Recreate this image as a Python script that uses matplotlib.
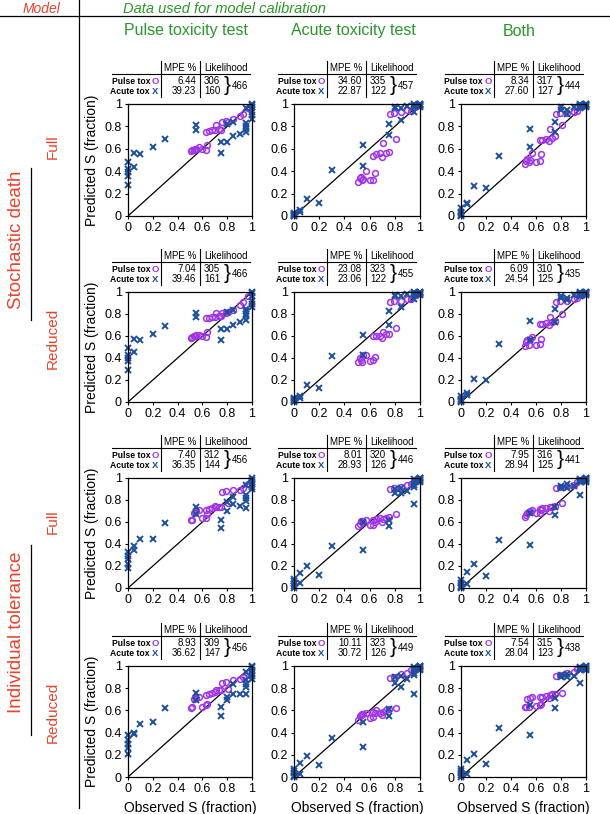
import matplotlib.pyplot as plt
from matplotlib.lines import Line2D

plt.rcParams["font.family"] = ["Liberation Sans", "DejaVu Sans"]

W, H = 610, 814

red = '#e8432b'
green = '#2b962b'
purple = '#a035e8'
blue = '#1c4f9e'

col_titles = ['Pulse toxicity test', 'Acute toxicity test', 'Both']
model_names = ['Stochastic death', 'Individual tolerance']
variant_names = ['Full', 'Reduced', 'Full', 'Reduced']
ticks = [0, 0.2, 0.4, 0.6, 0.8, 1]
tick_labels = ['0', '0.2', '0.4', '0.6', '0.8', '1']

# observed survival (same experiments in every panel)
pulse_obs = [0.51, 0.52, 0.53, 0.54, 0.55, 0.57, 0.60, 0.63, 0.64,
             0.63, 0.65, 0.68, 0.70, 0.71, 0.73, 0.75,
             0.76, 0.79, 0.81,
             0.85, 0.90, 0.93, 0.97]
acute_obs = [0, 0, 0, 0, 0, 0.05, 0.05, 0.10, 0.20, 0.30, 0.55, 0.55,
             0.75, 0.75, 0.80, 0.80, 0.85, 0.85, 0.90,
             0.95, 0.95, 0.95, 0.95, 0.95, 1, 1, 1, 1, 1, 1]

# predicted survival, pulse tox points.  sd = stochastic death, it = individual tolerance
# suffix: _P calibrated on pulse test, _A on acute test, _B on both
pul_sd_full_P = [0.58, 0.59, 0.59, 0.60, 0.60, 0.62, 0.60, 0.59, 0.63, 0.75, 0.76, 0.77, 0.77, 0.81, 0.78, 0.77, 0.84, 0.85, 0.84, 0.87, 0.89, 0.91, 0.96]
pul_sd_full_A = [0.30, 0.34, 0.35, 0.32, 0.33, 0.40, 0.32, 0.32, 0.38, 0.54, 0.55, 0.56, 0.53, 0.65, 0.56, 0.57, 0.91, 0.92, 0.69, 0.93, 0.95, 0.94, 0.98]
pul_sd_full_B = [0.46, 0.49, 0.51, 0.48, 0.50, 0.56, 0.48, 0.49, 0.55, 0.68, 0.68, 0.69, 0.67, 0.78, 0.70, 0.71, 0.91, 0.92, 0.81, 0.92, 0.93, 0.94, 0.98]
pul_sd_red_P = [0.58, 0.59, 0.60, 0.60, 0.61, 0.61, 0.60, 0.59, 0.64, 0.76, 0.76, 0.77, 0.77, 0.81, 0.78, 0.78, 0.81, 0.81, 0.82, 0.84, 0.88, 0.91, 0.96]
pul_sd_red_A = [0.36, 0.40, 0.38, 0.36, 0.43, 0.43, 0.37, 0.38, 0.41, 0.60, 0.60, 0.60, 0.58, 0.64, 0.62, 0.62, 0.91, 0.92, 0.67, 0.92, 0.94, 0.94, 0.97]
pul_sd_red_B = [0.51, 0.55, 0.56, 0.52, 0.57, 0.59, 0.52, 0.53, 0.57, 0.71, 0.71, 0.72, 0.70, 0.77, 0.73, 0.74, 0.91, 0.92, 0.80, 0.92, 0.94, 0.95, 0.97]
pul_it_full_P = [0.62, 0.62, 0.68, 0.69, 0.70, 0.71, 0.64, 0.64, 0.67, 0.71, 0.72, 0.73, 0.75, 0.74, 0.74, 0.74, 0.87, 0.88, 0.77, 0.89, 0.89, 0.91, 0.95]
pul_it_full_A = [0.56, 0.58, 0.61, 0.61, 0.60, 0.62, 0.57, 0.57, 0.60, 0.62, 0.63, 0.64, 0.60, 0.63, 0.64, 0.65, 0.90, 0.91, 0.67, 0.92, 0.94, 0.95, 0.97]
pul_it_full_B = [0.65, 0.66, 0.68, 0.69, 0.70, 0.71, 0.68, 0.68, 0.71, 0.72, 0.73, 0.73, 0.70, 0.74, 0.74, 0.75, 0.91, 0.92, 0.77, 0.93, 0.94, 0.96, 0.98]
pul_it_red_P = [0.62, 0.63, 0.70, 0.72, 0.71, 0.72, 0.63, 0.65, 0.66, 0.74, 0.75, 0.76, 0.77, 0.78, 0.78, 0.78, 0.85, 0.86, 0.79, 0.87, 0.88, 0.90, 0.94]
pul_it_red_A = [0.51, 0.55, 0.56, 0.57, 0.57, 0.58, 0.53, 0.54, 0.58, 0.59, 0.60, 0.58, 0.56, 0.59, 0.60, 0.61, 0.89, 0.90, 0.62, 0.93, 0.94, 0.96, 0.98]
pul_it_red_B = [0.63, 0.63, 0.70, 0.63, 0.71, 0.72, 0.64, 0.65, 0.66, 0.72, 0.72, 0.73, 0.71, 0.74, 0.75, 0.75, 0.91, 0.92, 0.76, 0.94, 0.95, 0.97, 0.99]

# predicted survival, acute tox points
acu_sd_full_P = [0.48, 0.39, 0.36, 0.28, 0.42, 0.44, 0.56, 0.55, 0.62, 0.69, 0.81, 0.77, 0.56, 0.66, 0.66, 0.82, 0.71, 0.84, 0.73, 0.75, 0.78, 0.80, 0.83, 0.96, 1.00, 0.97, 0.93, 0.90, 0.87, 0.99]
acu_sd_full_A = [0.02, 0.00, 0.01, 0.00, 0.03, 0.05, 0.04, 0.15, 0.12, 0.41, 0.63, 0.45, 0.82, 0.72, 0.96, 0.97, 0.96, 0.86, 0.98, 0.93, 0.97, 0.99, 0.98, 1.00, 1.00, 0.99, 0.98, 1.00, 0.97, 0.99]
acu_sd_full_B = [0.07, 0.01, 0.00, 0.03, 0.04, 0.11, 0.12, 0.27, 0.25, 0.54, 0.78, 0.62, 0.84, 0.75, 0.95, 0.97, 0.95, 0.91, 0.97, 0.97, 0.96, 0.98, 0.99, 1.00, 1.00, 0.99, 0.98, 0.97, 1.00, 0.99]
acu_sd_red_P = [0.49, 0.40, 0.37, 0.29, 0.43, 0.45, 0.57, 0.56, 0.62, 0.69, 0.81, 0.77, 0.56, 0.66, 0.66, 0.82, 0.70, 0.84, 0.73, 0.75, 0.78, 0.80, 0.83, 0.85, 0.99, 0.96, 0.92, 0.89, 0.86, 1.00]
acu_sd_red_A = [0.02, 0.00, 0.04, 0.01, 0.03, 0.05, 0.04, 0.15, 0.13, 0.42, 0.43, 0.61, 0.70, 0.83, 0.96, 0.97, 0.96, 0.86, 0.98, 0.94, 0.97, 0.99, 0.98, 1.00, 1.00, 0.99, 0.98, 1.00, 0.97, 0.99]
acu_sd_red_B = [0.02, 0.05, 0.00, 0.01, 0.03, 0.08, 0.06, 0.21, 0.20, 0.53, 0.74, 0.56, 0.85, 0.73, 0.96, 0.95, 0.93, 0.95, 0.97, 0.98, 0.96, 0.99, 0.97, 1.00, 1.00, 0.99, 0.98, 0.97, 1.00, 0.99]
acu_it_full_P = [0.33, 0.29, 0.26, 0.22, 0.18, 0.38, 0.35, 0.45, 0.45, 0.59, 0.74, 0.67, 0.62, 0.55, 0.70, 0.78, 0.76, 0.83, 0.75, 0.73, 0.79, 0.82, 0.85, 0.94, 0.98, 0.95, 0.92, 0.90, 1.00, 0.96]
acu_it_full_A = [0.02, 0.06, 0.04, 0.08, 0.00, 0.05, 0.14, 0.20, 0.12, 0.38, 0.35, 0.60, 0.62, 0.56, 0.86, 0.90, 0.91, 0.86, 0.88, 0.76, 0.92, 0.94, 0.97, 0.99, 1.00, 0.99, 0.98, 0.97, 1.00, 0.96]
acu_it_full_B = [0.05, 0.02, 0.07, 0.01, 0.00, 0.15, 0.04, 0.22, 0.11, 0.44, 0.39, 0.68, 0.74, 0.66, 0.91, 0.93, 0.95, 0.91, 0.93, 0.85, 0.97, 0.96, 0.98, 0.99, 1.00, 0.99, 0.98, 0.97, 1.00, 0.96]
acu_it_red_P = [0.38, 0.33, 0.30, 0.26, 0.21, 0.40, 0.39, 0.48, 0.50, 0.62, 0.76, 0.69, 0.63, 0.55, 0.69, 0.72, 0.75, 0.84, 0.75, 0.75, 0.81, 0.84, 0.87, 0.95, 0.99, 0.94, 0.91, 0.88, 1.00, 0.96]
acu_it_red_A = [0.07, 0.04, 0.05, 0.01, 0.00, 0.03, 0.13, 0.19, 0.11, 0.35, 0.27, 0.50, 0.61, 0.55, 0.85, 0.90, 0.91, 0.81, 0.88, 0.75, 0.92, 0.94, 0.97, 0.99, 1.00, 0.99, 0.98, 0.97, 1.00, 0.96]
acu_it_red_B = [0.07, 0.05, 0.02, 0.00, 0.04, 0.03, 0.15, 0.21, 0.12, 0.44, 0.38, 0.65, 0.71, 0.62, 0.90, 0.92, 0.93, 0.90, 0.91, 0.85, 0.97, 0.96, 0.98, 0.99, 1.00, 0.99, 0.98, 0.97, 1.00, 0.96]

# table numbers, panels in row order
mpe_pulse = [6.44, 34.60, 8.34, 7.04, 23.08, 6.09, 7.40, 8.01, 7.95, 8.93, 10.11, 7.54]
mpe_acute = [39.23, 22.87, 27.60, 39.46, 23.06, 24.54, 36.35, 28.93, 28.94, 36.62, 30.72, 28.04]
lik_pulse = [306, 335, 317, 305, 323, 310, 312, 320, 316, 309, 323, 315]
lik_acute = [160, 122, 127, 161, 122, 125, 144, 126, 125, 147, 126, 123]
lik_total = [466, 457, 444, 466, 455, 435, 456, 446, 441, 456, 449, 438]

pulse_pred = [pul_sd_full_P, pul_sd_full_A, pul_sd_full_B,
              pul_sd_red_P, pul_sd_red_A, pul_sd_red_B,
              pul_it_full_P, pul_it_full_A, pul_it_full_B,
              pul_it_red_P, pul_it_red_A, pul_it_red_B]
acute_pred = [acu_sd_full_P, acu_sd_full_A, acu_sd_full_B,
              acu_sd_red_P, acu_sd_red_A, acu_sd_red_B,
              acu_it_full_P, acu_it_full_A, acu_it_full_B,
              acu_it_red_P, acu_it_red_A, acu_it_red_B]


def fx(x):
    return x / W


def fy(y):
    return 1 - y / H


def hline(x0, x1, y, lw=0.9):
    fig.add_artist(Line2D([fx(x0), fx(x1)], [fy(y), fy(y)], color='k', lw=lw))


def vline(x, y0, y1, lw=0.9):
    fig.add_artist(Line2D([fx(x), fx(x)], [fy(y0), fy(y1)], color='k', lw=lw))


def draw_table(L, T, i):
    fs = 7
    fig.text(fx(L + 52), fy(T - 36), 'MPE %', ha='center', va='center', fontsize=fs)
    fig.text(fx(L + 76), fy(T - 36), 'Likelihood', ha='left', va='center', fontsize=fs)
    hline(L - 16, L + 122, T - 30, lw=0.8)
    vline(L + 33, T - 43, T - 7, lw=0.8)
    vline(L + 72, T - 43, T - 7, lw=0.8)
    rows = [(T - 23, 'Pulse tox', 'O', purple, mpe_pulse[i], lik_pulse[i]),
            (T - 13, 'Acute tox', 'X', blue, mpe_acute[i], lik_acute[i])]
    for yy, name, mk, c, mpe, lik in rows:
        fig.text(fx(L + 22), fy(yy), name, ha='right', va='center', fontsize=6.2, fontweight='bold')
        fig.text(fx(L + 24), fy(yy), mk, ha='left', va='center', fontsize=6.8, fontweight='bold', color=c)
        fig.text(fx(L + 68), fy(yy), '%.2f' % mpe, ha='right', va='center', fontsize=fs)
        fig.text(fx(L + 76), fy(yy), '%d' % lik, ha='left', va='center', fontsize=fs)
    fig.text(fx(L + 96), fy(T - 18.5), '}', ha='left', va='center', fontsize=15)
    fig.text(fx(L + 104), fy(T - 18), '%d' % lik_total[i], ha='left', va='center', fontsize=fs)


fig = plt.figure(figsize=(W / 100, H / 100), dpi=100)

cols_px = [(128, 252), (294, 420), (461, 586)]
rows_px = [(104, 216), (292, 402), (478, 588), (666, 777)]

for r, (t, b) in enumerate(rows_px):
    for c, (l, rr) in enumerate(cols_px):
        i = r * 3 + c
        ax = fig.add_axes([fx(l), fy(b), (rr - l) / W, (b - t) / H])
        ax.plot([0, 1], [0, 1], color='k', lw=0.9)
        ax.plot(pulse_obs, pulse_pred[i], 'o', mfc='none', mec=purple, ms=4.2, mew=1.1, clip_on=False)
        ax.plot(acute_obs, acute_pred[i], 'x', color=blue, ms=4.5, mew=1.4, clip_on=False)
        ax.set_xlim(0, 1)
        ax.set_ylim(0, 1)
        ax.set_xticks(ticks)
        ax.set_xticklabels(tick_labels)
        ax.set_yticks(ticks)
        ax.set_yticklabels(tick_labels)
        ax.tick_params(labelsize=9, length=2.5, width=0.8, pad=2)
        for s in ax.spines.values():
            s.set_linewidth(0.9)
        if c == 0:
            ax.set_ylabel('Predicted S (fraction)', fontsize=10, labelpad=4)
        if r == 3:
            ax.set_xlabel('Observed S (fraction)', fontsize=10, labelpad=4)
        draw_table(l, t, i)

# header
fig.text(fx(42), fy(9), 'Model', color=red, style='italic', fontsize=10, ha='center', va='center')
fig.text(fx(123), fy(9), 'Data used for model calibration', color=green, style='italic',
         fontsize=10.5, ha='left', va='center')
hline(0, W, 16)
vline(79, 0, 808)

for (l, rr), title in zip(cols_px, col_titles):
    fig.text(fx((l + rr) / 2 - 4), fy(31), title, color=green, fontsize=11.5, ha='center', va='center')

# row labels
for y, name in zip([147, 338, 522, 712], variant_names):
    fig.text(fx(53), fy(y), name, color=red, rotation=90, fontsize=11, ha='center', va='center')
for y, name in zip([240, 632], model_names):
    fig.text(fx(17), fy(y), name, color=red, rotation=90, fontsize=13.5, ha='center', va='center')
vline(31, 168, 320)
vline(31, 545, 735)

fig.savefig('out.png', dpi=100)
